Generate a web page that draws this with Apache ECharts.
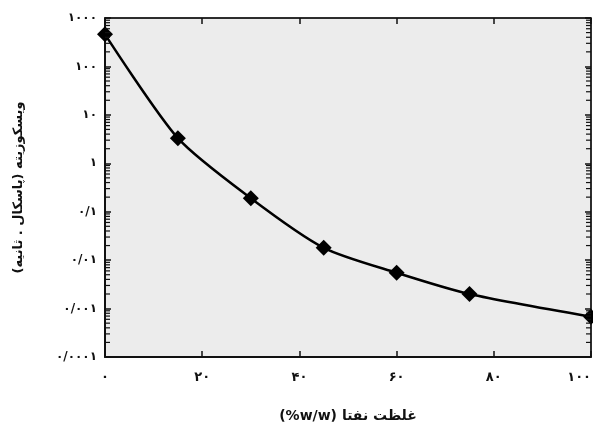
<!DOCTYPE html>
<html>
<head>
<meta charset="utf-8">
<script src="https://cdn.jsdelivr.net/npm/echarts@6/dist/echarts.min.js"></script>
<style>
    html, body {margin: 0; padding: 0; background: #fff;}
    #chart {width: 593px; height: 427px;}
</style>
</head>
<body>
<div id="chart"></div>
<script>
    // غلظت نفتا (%w/w)
    var concentration = [0, 15, 30, 45, 60, 75, 100];
    // ویسکوزیته (پاسکال . ثانیه)
    var viscosity = [460, 3.3, 0.19, 0.018, 0.0055, 0.002, 0.00068];

    var xTickLabels = {0: '۰', 20: '۲۰', 40: '۴۰', 60: '۶۰', 80: '۸۰', 100: '۱۰۰'};
    var yTickLabels = ['۰/۰۰۰۱', '۰/۰۰۱', '۰/۰۱', '۰/۱', '۱', '۱۰', '۱۰۰', '۱۰۰۰'];

    var font = '"DejaVu Sans", "Noto Sans", sans-serif';

    function yLabel(v) {
        var idx = Math.round(Math.log10(v)) + 4;
        return yTickLabels[idx] || '';
    }

    // minor ticks 2..9 of every decade (log axis)
    var minorTicks = [];
    for (var k = -4; k < 3; k++) {
        for (var m = 2; m <= 9; m++) {
            minorTicks.push([0, +(m * Math.pow(10, k)).toPrecision(3)]);
        }
    }

    var chart = echarts.init(document.getElementById('chart'));

    var axisLine = {onZero: false, lineStyle: {color: '#111', width: 2}};
    var axisTick = {inside: true, length: 6, lineStyle: {color: '#111', width: 1.5}};

    var option = {
        animation: false,
        grid: {
            left: 105, right: 2, top: 18, bottom: 70,
            containLabel: false,
            outerBoundsMode: 'none',
            show: true,
            backgroundColor: '#ececec',
            borderColor: '#111',
            borderWidth: 1
        },
        xAxis: [{
            type: 'value',
            min: 0, max: 100, interval: 20,
            name: '(%w/w) غلظت نفتا',
            nameLocation: 'middle',
            nameGap: 52,
            nameTextStyle: {fontFamily: font, fontWeight: 'bold', fontSize: 14, color: '#111'},
            axisLine: axisLine,
            axisTick: axisTick,
            splitLine: {show: false},
            axisLabel: {
                margin: 14,
                alignMaxLabel: 'right',
                fontFamily: font, fontWeight: 'bold', fontSize: 13, color: '#111',
                formatter: function (v) { return xTickLabels[v] || ''; }
            }
        }, {
            type: 'value',
            position: 'top',
            min: 0, max: 100, interval: 20,
            axisLine: {onZero: false, lineStyle: {color: '#111', width: 1.5}},
            axisTick: axisTick,
            axisLabel: {show: false},
            splitLine: {show: false}
        }],
        yAxis: [{
            type: 'log',
            logBase: 10,
            min: 0.0001, max: 1000,
            name: '\u200Fویسکوزیته (پاسکال . ثانیه)\u200F',
            nameLocation: 'middle',
            nameGap: 80,
            nameRotate: 90,
            nameTextStyle: {fontFamily: font, fontWeight: 'bold', fontSize: 13, color: '#111'},
            axisLine: axisLine,
            axisTick: axisTick,
            splitLine: {show: false},
            axisLabel: {
                margin: 8,
                fontFamily: font, fontWeight: 'bold', fontSize: 12, color: '#111',
                formatter: yLabel
            }
        }, {
            type: 'log',
            logBase: 10,
            position: 'right',
            min: 0.0001, max: 1000,
            axisLine: {onZero: false, lineStyle: {color: '#111', width: 1.5}},
            axisTick: axisTick,
            axisLabel: {show: false},
            splitLine: {show: false}
        }],
        series: [{
            type: 'custom',
            silent: true,
            z: 4,
            clip: false,
            encode: {x: 0, y: 1},
            data: minorTicks,
            renderItem: function (params, api) {
                var left = api.coord([0, api.value(1)]);
                var right = api.coord([100, api.value(1)]);
                var style = {stroke: '#111', lineWidth: 1.2};
                return {
                    type: 'group',
                    children: [
                        {type: 'line', shape: {x1: left[0], y1: left[1], x2: left[0] + 5, y2: left[1]}, style: style},
                        {type: 'line', shape: {x1: right[0], y1: right[1], x2: right[0] - 5, y2: right[1]}, style: style}
                    ]
                };
            }
        }, {
            type: 'line',
            z: 3,
            data: concentration.map(function (c, i) { return [c, viscosity[i]]; }),
            smooth: 0.25,
            symbol: 'diamond',
            symbolSize: 16,
            itemStyle: {color: '#000'},
            lineStyle: {color: '#000', width: 2.5}
        }]
    };
    chart.setOption(option);
</script>
</body>
</html>
